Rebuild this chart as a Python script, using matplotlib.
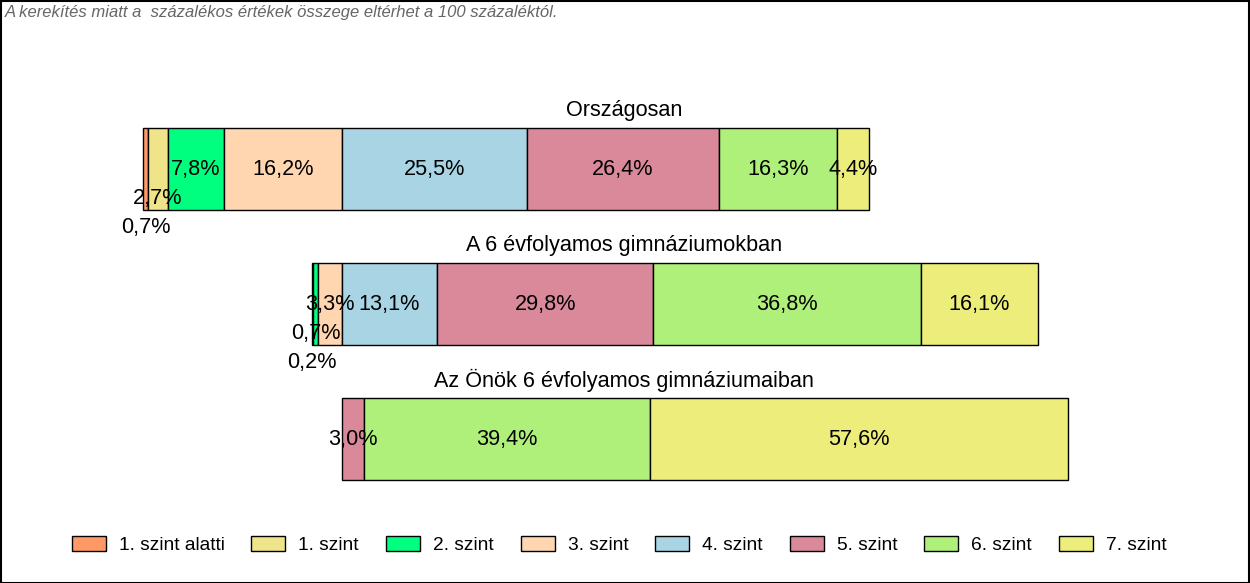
import matplotlib
matplotlib.use("Agg")
import matplotlib.pyplot as plt
from matplotlib.patches import Rectangle, Patch
from matplotlib import font_manager

plt.rcParams['font.family'] = ['Liberation Sans', 'DejaVu Sans']

# ---- data ----
levels = ["1. szint alatti", "1. szint", "2. szint", "3. szint",
          "4. szint", "5. szint", "6. szint", "7. szint"]
groups = ["Országosan", "A 6 évfolyamos gimnáziumokban",
          "Az Önök 6 évfolyamos gimnáziumaiban"]
orszagosan = [0.7, 2.7, 7.8, 16.2, 25.5, 26.4, 16.3, 4.4]
hat_evf = [0.0, 0.2, 0.7, 3.3, 13.1, 29.8, 36.8, 16.1]
onok = [0.0, 0.0, 0.0, 0.0, 0.0, 3.0, 39.4, 57.6]
series = [orszagosan, hat_evf, onok]
colors = ["#FF9966", "#F0E48A", "#00FF7F", "#FFD6B0",
          "#A8D4E4", "#D9899A", "#AEF07A", "#EDED7C"]
note = "A kerekítés miatt a  százalékos értékek összege eltérhet a 100 százaléktól."

W, H = 1250, 583
fig = plt.figure(figsize=(W / 100, H / 100), dpi=100)
ax = fig.add_axes([0, 0, 1, 1])
ax.axis("off")

px_per_pct = 7.26
zero_px = 342
ax.set_xlim(-zero_px / px_per_pct, (W - zero_px) / px_per_pct)
spacing = 135.0
y0 = 169.0
ax.set_ylim((H - y0) / spacing, -y0 / spacing)
bar_h = 82 / spacing
step = 29.0 / spacing
small = 3.0
fs = 15.6

xl = ax.get_xlim()
title_x = xl[0] + (624 / W) * (xl[1] - xl[0])

for i, vals in enumerate(series):
    left = -sum(vals[:4])
    segs = []
    for j, v in enumerate(vals):
        if v > 0:
            ax.barh(i, v, left=left, height=bar_h, color=colors[j],
                    edgecolor="black", linewidth=1.0)
            segs.append((j, v, left))
        left += v
    # labels with staggering for small segments
    for k, (j, v, l) in enumerate(segs):
        off = 0
        if v < small:
            n = 1
            for (_, v2, _) in segs[k + 1:]:
                if v2 < small:
                    n += 1
                else:
                    break
            off = n * step
        ax.text(l + v / 2, i + off, f"{v:.1f}".replace(".", ",") + "%",
                ha="center", va="center", fontsize=fs, color="black")
    ax.text(title_x, i - bar_h / 2 - 18 / spacing, groups[i],
            ha="center", va="center", fontsize=fs)

names = {f.name for f in font_manager.fontManager.ttflist}
note_family = "Liberation Sans Narrow" if "Liberation Sans Narrow" in names else "Liberation Sans"
fig.text(5 / W, 1 - 13 / H, note, ha="left", va="center", fontsize=12,
         style="italic", color="#666666", family=note_family)

handles = [Patch(facecolor=c, edgecolor="black", linewidth=1.0) for c in colors]
leg = fig.legend(handles, levels, ncol=8, loc="center",
                 bbox_to_anchor=(619 / W, 1 - 545 / H), frameon=False,
                 fontsize=13.8, handlelength=1.77, handleheight=0.83,
                 handletextpad=0.68, columnspacing=1.41)

fig.add_artist(Rectangle((0.5 / W, 0.5 / H), 1 - 1.5 / W, 1 - 1.5 / H,
                         transform=fig.transFigure, fill=False,
                         edgecolor="black", linewidth=1.5))
fig.savefig("out.png", dpi=100)
